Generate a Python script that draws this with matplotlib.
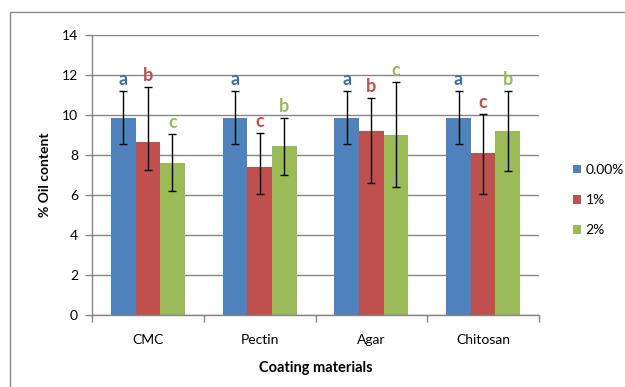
import matplotlib
matplotlib.use("Agg")
import matplotlib.pyplot as plt
import numpy as np

plt.rcParams['font.family'] = ['Lato', 'DejaVu Sans']

categories = ['CMC', 'Pectin', 'Agar', 'Chitosan']
series = ['0.00%', '1%', '2%']
means = [
    [9.85, 9.85, 9.85, 9.85],
    [8.65, 7.4, 9.2, 8.1],
    [7.6, 8.45, 9.0, 9.2],
]
# lower / upper error lengths (the chart uses custom, partly asymmetric bars)
err_low = [
    [1.3, 1.3, 1.3, 1.3],
    [1.42, 1.35, 2.6, 2.05],
    [1.42, 1.43, 2.6, 2.0],
]
err_high = [
    [1.33, 1.33, 1.33, 1.33],
    [2.75, 1.68, 1.63, 1.97],
    [1.43, 1.42, 2.63, 2.0],
]
letters = [
    ['a', 'a', 'a', 'a'],
    ['b', 'c', 'b', 'c'],
    ['c', 'b', 'c', 'b'],
]
colors = ['#4F81BD', '#C0504D', '#9BBB59']
text_colors = ['#3E6EA8', '#C0504D', '#9BBB59']

fig = plt.figure(figsize=(6.25, 3.87), dpi=100)
ax = fig.add_axes([0.1472, 0.186, 0.7152, 0.7236])

# frame around the chart
fig.patches.append(plt.Rectangle((10 / 625, -0.1), 1.2, 1 - 12 / 387 + 0.1,
                                 transform=fig.transFigure, fill=False,
                                 edgecolor='#8c8c8c', linewidth=1.0))

x = np.arange(len(categories))
w = 0.22
for i in range(len(series)):
    pos = x + (i - 1) * w
    ax.bar(pos, means[i], w, color=colors[i], label=series[i], zorder=2)
    ax.errorbar(pos, means[i], yerr=[err_low[i], err_high[i]], fmt='none',
                ecolor='black', elinewidth=1.0, capsize=3, capthick=1.0, zorder=3)
    for j in range(len(categories)):
        ax.text(pos[j], means[i][j] + err_high[i][j] + 0.3, letters[i][j],
                ha='center', va='baseline', color=text_colors[i],
                fontsize=13, fontweight='bold')

ax.set_xlim(-0.5, 3.5)
ax.set_ylim(0, 14)
ax.set_yticks(range(0, 15, 2))
ax.set_xticks(x)
ax.set_xticklabels(categories)
ax.set_xticks(np.arange(-0.5, 4, 1), minor=True)
ax.tick_params(axis='x', which='major', length=0, pad=13.5, labelsize=10)
ax.tick_params(axis='x', which='minor', length=5, color='#868686', width=1)
ax.tick_params(axis='y', length=5, color='#868686', width=1, labelsize=10, pad=5)

ax.grid(axis='y', color='#868686', linewidth=1.0, zorder=0)
ax.set_axisbelow(True)
for s in ['top', 'right']:
    ax.spines[s].set_visible(False)
for s in ['left', 'bottom']:
    ax.spines[s].set_color('#868686')
    ax.spines[s].set_linewidth(1.0)

ax.set_ylabel('% Oil content', fontsize=10, fontweight='bold', labelpad=8)
ax.set_xlabel('Coating materials', fontsize=10.5, fontweight='bold', labelpad=11)

fig.legend(loc='center left', bbox_to_anchor=(566 / 625, 1 - 200 / 387),
           frameon=False, fontsize=10, handlelength=0.6, handleheight=0.6,
           handletextpad=0.3, labelspacing=1.3, borderpad=0)

fig.savefig('out.png', dpi=100)
